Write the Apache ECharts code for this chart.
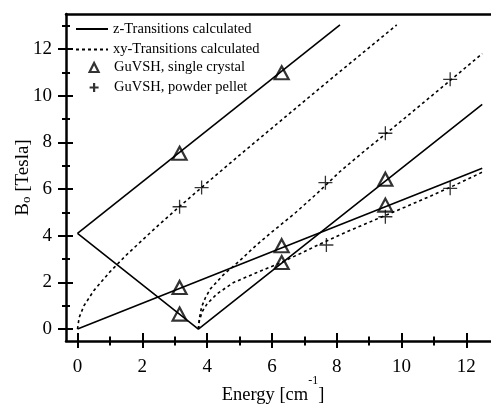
<!DOCTYPE html>
<html>
<head>
<meta charset="utf-8">
<script src="https://cdn.jsdelivr.net/npm/echarts@6/dist/echarts.min.js"></script>
<style>
  html, body { margin: 0; padding: 0; background: #fff; }
  #chart { width: 491px; height: 404px; }
</style>
</head>
<body>
<div id="chart"></div>
<script>
// Resonance field B0 versus transition energy for GuVSH

// z-transitions (calculated)
const zUpperE = [0, 8.1];
const zUpperB = [4.1, 13.03];
const zCrossE = [0, 3.73, 12.49];
const zCrossB = [4.1, 0, 9.63];
const zDoubleE = [0, 12.49];
const zDoubleB = [0, 6.89];

// xy-transitions (calculated)
const xyOriginE = [0, 0.05, 0.2, 0.5, 1.0, 1.5, 2.0, 2.5, 3.15, 4.0, 5.0, 6.0, 7.0, 8.0, 9.0, 9.85];
const xyOriginB = [0, 0.49, 1.0, 1.64, 2.45, 3.16, 3.81, 4.45, 5.25, 6.27, 7.45, 8.61, 9.77, 10.92, 12.06, 13.03];
const xyUpperE = [3.73, 3.76, 3.83, 3.95, 4.1, 4.5, 5.0, 5.5, 6.0, 6.7, 7.4, 8.1, 8.9, 9.7, 10.5, 11.3, 12.49];
const xyUpperB = [0, 0.45, 0.95, 1.35, 1.72, 2.32, 2.92, 3.57, 4.16, 4.95, 5.82, 6.75, 7.68, 8.58, 9.5, 10.42, 11.8];
const xyLowerE = [3.73, 3.76, 3.85, 4.0, 4.3, 4.8, 5.5, 6.2, 6.9, 7.6, 8.4, 9.3, 10.1, 10.9, 11.7, 12.49];
const xyLowerB = [0, 0.35, 0.75, 1.08, 1.5, 1.98, 2.4, 2.8, 3.25, 3.72, 4.22, 4.75, 5.22, 5.7, 6.2, 6.72];

// measured resonances
const crystalE = [3.15, 6.3, 3.15, 3.15, 6.3, 6.3, 9.5, 9.5];
const crystalB = [7.53, 10.98, 1.78, 0.64, 3.57, 2.85, 6.42, 5.31];
const pelletE = [3.15, 3.83, 7.65, 9.5, 11.5, 7.68, 9.5, 11.5];
const pelletB = [5.24, 6.06, 6.27, 8.39, 10.7, 3.6, 4.81, 6.03];

// axis ticks
const majorTicksX = [0, 2, 4, 6, 8, 10, 12];
const minorTicksX = [1, 3, 5, 7, 9, 11];
const majorTicksY = [0, 2, 4, 6, 8, 10, 12];
const minorTicksY = [1, 3, 5, 7, 9, 11, 13];

const Z_NAME = 'z-Transitions calculated';
const XY_NAME = 'xy-Transitions calculated';
const CRYSTAL_NAME = 'GuVSH, single crystal';
const PELLET_NAME = 'GuVSH, powder pellet';

const SERIF = "'Liberation Serif', 'Times New Roman', serif";
const PLUS = 'path://M5 0L5 10M0 5L10 5';
const X_MIN = -0.355, X_MAX = 12.76;
const Y_MIN = -0.514, Y_MAX = 13.5;

const zip = (xs, ys) => xs.map((x, i) => [x, ys[i]]);

function curve(name, xs, ys, dashed) {
  return {
    type: 'line', name: name, data: zip(xs, ys),
    xAxisIndex: 0, yAxisIndex: 0,
    symbol: 'none', smooth: false, silent: true, z: 2,
    itemStyle: { color: '#000' },
    lineStyle: { color: '#000', width: 1.6, type: dashed ? [3, 3] : 'solid' }
  };
}

function xAxisPart(opts) {
  return Object.assign({
    type: 'value', min: X_MIN, max: X_MAX, position: 'bottom',
    axisLine: { show: false, onZero: false },
    axisTick: { show: false },
    axisLabel: { show: false },
    splitLine: { show: false }
  }, opts);
}
function yAxisPart(opts) {
  return Object.assign({
    type: 'value', min: Y_MIN, max: Y_MAX, position: 'left',
    axisLine: { show: false, onZero: false },
    axisTick: { show: false },
    axisLabel: { show: false },
    splitLine: { show: false }
  }, opts);
}
const tickLine = { color: '#000', width: 2 };
const axisLine = { show: true, onZero: false, lineStyle: { color: '#000', width: 2.5 } };

const chart = echarts.init(document.getElementById('chart'), null, { renderer: 'canvas' });

chart.setOption({
  animation: false,
  backgroundColor: '#fff',
  textStyle: { fontFamily: SERIF, color: '#000' },
  grid: { left: 66, right: 0, top: 14, bottom: 63, containLabel: false, outerBoundsMode: 'none' },
  xAxis: [
    xAxisPart({
      axisLine: axisLine,
      axisTick: { show: true, inside: false, length: 7, customValues: majorTicksX, lineStyle: tickLine },
      axisLabel: { show: true, customValues: majorTicksX, margin: 17, fontSize: 19, fontFamily: SERIF, color: '#000' },
      name: 'Energy [cm{sup|-1}]',
      nameLocation: 'middle',
      nameMoveOverlap: false,
      nameGap: 34,
      nameTextStyle: {
        fontFamily: SERIF, fontSize: 18.5, color: '#000', padding: [0, 11, 0, 0],
        rich: { sup: { fontFamily: SERIF, fontSize: 12, color: '#000', verticalAlign: 'top', padding: [0, 0, 29, 0] } }
      }
    }),
    xAxisPart({ axisTick: { show: true, inside: true, length: 8, customValues: majorTicksX, lineStyle: tickLine } }),
    xAxisPart({ axisTick: { show: true, inside: false, length: 4.5, customValues: minorTicksX, lineStyle: tickLine } }),
    xAxisPart({ axisTick: { show: true, inside: true, length: 4.5, customValues: minorTicksX, lineStyle: tickLine } }),
    xAxisPart({ position: 'top', axisLine: axisLine })
  ],
  yAxis: [
    yAxisPart({
      axisLine: axisLine,
      axisTick: { show: true, inside: false, length: 8, customValues: majorTicksY, lineStyle: tickLine },
      axisLabel: { show: true, customValues: majorTicksY, margin: 14, fontSize: 19, fontFamily: SERIF, color: '#000' },
      name: 'B{sub|o} [Tesla]',
      nameLocation: 'middle',
      nameRotate: 90,
      nameMoveOverlap: false,
      nameGap: 33,
      nameTextStyle: {
        fontFamily: SERIF, fontSize: 19, color: '#000',
        rich: { sub: { fontFamily: SERIF, fontSize: 13, color: '#000', verticalAlign: 'bottom' } }
      }
    }),
    yAxisPart({ axisTick: { show: true, inside: true, length: 7, customValues: majorTicksY, lineStyle: tickLine } }),
    yAxisPart({ axisTick: { show: true, inside: false, length: 4, customValues: minorTicksY, lineStyle: tickLine } }),
    yAxisPart({ axisTick: { show: true, inside: true, length: 4, customValues: minorTicksY, lineStyle: tickLine } })
  ],
  legend: [
    {
      data: [Z_NAME, XY_NAME],
      orient: 'vertical', left: 75, top: 21.5, padding: 0,
      itemWidth: 32, itemHeight: 14, itemGap: 5.4,
      selectedMode: false,
      itemStyle: { color: 'rgba(0,0,0,0)', borderColor: 'rgba(0,0,0,0)', borderWidth: 0 },
      textStyle: { fontFamily: SERIF, fontSize: 14.5, color: '#000' }
    },
    {
      data: [{ name: CRYSTAL_NAME, icon: 'triangle' }, { name: PELLET_NAME, icon: PLUS }],
      orient: 'vertical', left: 88.5, top: 60, padding: 0,
      itemWidth: 9, itemHeight: 9, itemGap: 5,
      selectedMode: false,
      itemStyle: { color: 'rgba(0,0,0,0)', borderColor: '#000', borderWidth: 2.2 },
      textStyle: { fontFamily: SERIF, fontSize: 14.5, color: '#000', padding: [0, 0, 0, 10.5] }
    }
  ],
  series: [
    curve(Z_NAME, zUpperE, zUpperB, false),
    curve(Z_NAME, zCrossE, zCrossB, false),
    curve(Z_NAME, zDoubleE, zDoubleB, false),
    curve(XY_NAME, xyOriginE, xyOriginB, true),
    curve(XY_NAME, xyUpperE, xyUpperB, true),
    curve(XY_NAME, xyLowerE, xyLowerB, true),
    {
      type: 'scatter', name: CRYSTAL_NAME, data: zip(crystalE, crystalB),
      xAxisIndex: 0, yAxisIndex: 0, z: 3, silent: true,
      symbol: 'triangle', symbolSize: [14, 13],
      itemStyle: { color: 'rgba(0,0,0,0)', borderColor: '#000', borderWidth: 2.2 }
    },
    {
      type: 'scatter', name: PELLET_NAME, data: zip(pelletE, pelletB),
      xAxisIndex: 0, yAxisIndex: 0, z: 3, silent: true,
      symbol: PLUS, symbolSize: 14,
      itemStyle: { color: 'rgba(0,0,0,0)', borderColor: '#000', borderWidth: 1.3 }
    }
  ]
});
</script>
</body>
</html>
